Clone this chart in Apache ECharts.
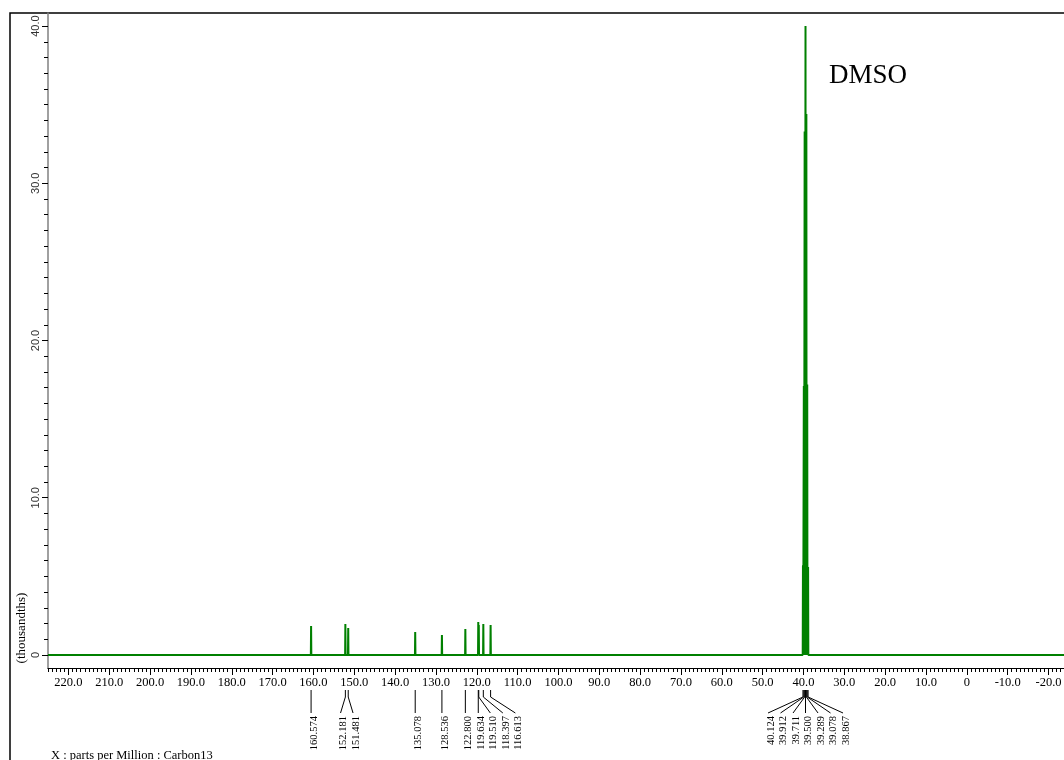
<!DOCTYPE html>
<html><head><meta charset="utf-8">
<script src="https://cdn.jsdelivr.net/npm/echarts@6/dist/echarts.min.js"></script>
<style>html,body{margin:0;padding:0;background:#fff}#c{width:1064px;height:760px}</style>
</head><body><div id="c"></div>
<script>
// ---- data (ppm, intensity in thousands) ----
const peakPpm = [160.574, 152.181, 151.481, 135.078, 128.536, 122.800, 119.634, 119.510, 118.397, 116.613,
                 40.124, 39.912, 39.711, 39.500, 39.289, 39.078, 38.867];
const peakHeight = [1.84, 1.97, 1.72, 1.46, 1.27, 1.65, 2.10, 1.90, 1.97, 1.91,
                    5.7, 17.1, 33.3, 40.0, 34.4, 17.2, 5.6];
const xTickLabels = [220, 210, 200, 190, 180, 170, 160, 150, 140, 130, 120, 110, 100, 90, 80, 70, 60, 50, 40, 30, 20, 10, 0, -10, -20];
const yTickLabels = [0, 10, 20, 30, 40];
const xMin = -23.8, xMax = 225, yMin = -0.83, yMax = 40.83;
const solventLabel = 'DMSO';
const xTitle = 'X : parts per Million : Carbon13';
const yTitle = '(thousandths)';

// build line data (sticks on a flat baseline)
const lineData = [[xMax, 0]];
peakPpm.forEach((p, i) => { lineData.push([p + 0.06, 0], [p, peakHeight[i]], [p - 0.06, 0]); });
lineData.push([xMin, 0]);

const xMinor = []; for (let v = -23; v <= 225; v++) xMinor.push(v);
const yMinor = []; for (let v = 0; v <= 40; v++) yMinor.push(v);

const fmt = v => (v === 0 ? '0' : Number(v).toFixed(1));
const serif = '"Liberation Serif", "DejaVu Serif", serif';

const chart = echarts.init(document.getElementById('c'), null, {renderer: 'canvas'});
chart.setOption({
  animation: false,
  backgroundColor: '#fff',
  grid: {left: 48, top: 13, right: 0, height: 655, containLabel: false, outerBoundsMode: 'none'},
  xAxis: [
    {type: 'value', position: 'bottom', inverse: true, min: xMin, max: xMax,
     axisLine: {show: true, onZero: false, lineStyle: {color: '#000', width: 1.2}},
     axisTick: {show: true, customValues: xMinor, length: 4, lineStyle: {color: '#000', width: 1}},
     axisLabel: {customValues: xTickLabels, formatter: fmt, fontFamily: serif, fontSize: 12.5, color: '#000', margin: 8},
     splitLine: {show: false}},
    {type: 'value', position: 'bottom', inverse: true, min: xMin, max: xMax,
     axisLine: {show: false, onZero: false},
     axisTick: {show: true, customValues: xTickLabels, length: 7, lineStyle: {color: '#000', width: 1}},
     axisLabel: {show: false}, splitLine: {show: false}}
  ],
  yAxis: [
    {type: 'value', position: 'left', min: yMin, max: yMax,
     axisLine: {show: true, onZero: false, lineStyle: {color: '#808080', width: 1.5}},
     axisTick: {show: true, customValues: yMinor, length: 4, lineStyle: {color: '#000', width: 1}},
     axisLabel: {customValues: yTickLabels, formatter: fmt, rotate: 90, fontFamily: '"Liberation Sans", Arial, sans-serif', fontSize: 11, color: '#333', margin: 7},
     splitLine: {show: false}},
    {type: 'value', position: 'left', min: yMin, max: yMax,
     axisLine: {show: false, onZero: false},
     axisTick: {show: true, customValues: yTickLabels, length: 6, lineStyle: {color: '#000', width: 1}},
     axisLabel: {show: false}, splitLine: {show: false}}
  ],
  series: [{
    type: 'line', xAxisIndex: 0, yAxisIndex: 0, data: lineData, showSymbol: false, symbol: 'none',
    lineStyle: {color: '#008000', width: 2}, z: 3
  }]
});

// ---- peak label layout using the axis scale ----
const n = peakPpm.length;
const s = 12.5;
const px = peakPpm.map(p => chart.convertToPixel({xAxisIndex: 0}, p));
const clusters = []; let cur = [0];
for (let i = 1; i < n; i++) { if (px[i] - px[i - 1] < s) cur.push(i); else { clusters.push(cur); cur = [i]; } }
clusters.push(cur);
const lx = new Array(n);
clusters.forEach(c => {
  const m = c.reduce((a, i) => a + px[i], 0) / c.length;
  c.forEach((i, k) => { lx[i] = m + (k - (c.length - 1) / 2) * s; });
});
for (let i = 1; i < n; i++) if (lx[i] < lx[i - 1] + s) lx[i] = lx[i - 1] + s;

const y0 = 690, yKnee = 697, yEnd = 713, yText = 716;
const g = [];
for (let i = 0; i < n; i++) {
  const pts = Math.abs(lx[i] - px[i]) < 0.6 ? [[px[i], y0], [px[i], yEnd]] : [[px[i], y0], [px[i], yKnee], [lx[i], yEnd]];
  g.push({type: 'polyline', shape: {points: pts}, style: {stroke: '#000', lineWidth: 1, fill: null}, silent: true});
  g.push({type: 'text', x: lx[i] + 3, y: yText, rotation: Math.PI / 2,
          style: {text: peakPpm[i].toFixed(3), font: '10.5px ' + serif, fill: '#000',
                  align: 'right', verticalAlign: 'middle', textAlign: 'right', textVerticalAlign: 'middle'}, silent: true});
}
g.push({type: 'rect', shape: {x: 10, y: 13, width: 1200, height: 900}, style: {fill: null, stroke: '#000', lineWidth: 1.5}, z: -1, silent: true});
g.push({type: 'text', x: 829, y: 76, style: {text: solventLabel, font: '27px ' + serif, fill: '#000',
        align: 'left', verticalAlign: 'middle', textAlign: 'left', textVerticalAlign: 'middle'}, silent: true});
g.push({type: 'text', x: 22, y: 628, rotation: Math.PI / 2, style: {text: yTitle, font: '13px ' + serif, fill: '#000',
        align: 'center', verticalAlign: 'middle', textAlign: 'center', textVerticalAlign: 'middle'}, silent: true});
g.push({type: 'text', x: 51, y: 755.5, style: {text: xTitle, font: '12.5px ' + serif, fill: '#000',
        align: 'left', verticalAlign: 'middle', textAlign: 'left', textVerticalAlign: 'middle'}, silent: true});
chart.setOption({graphic: {elements: g}});
</script>
</body></html>
